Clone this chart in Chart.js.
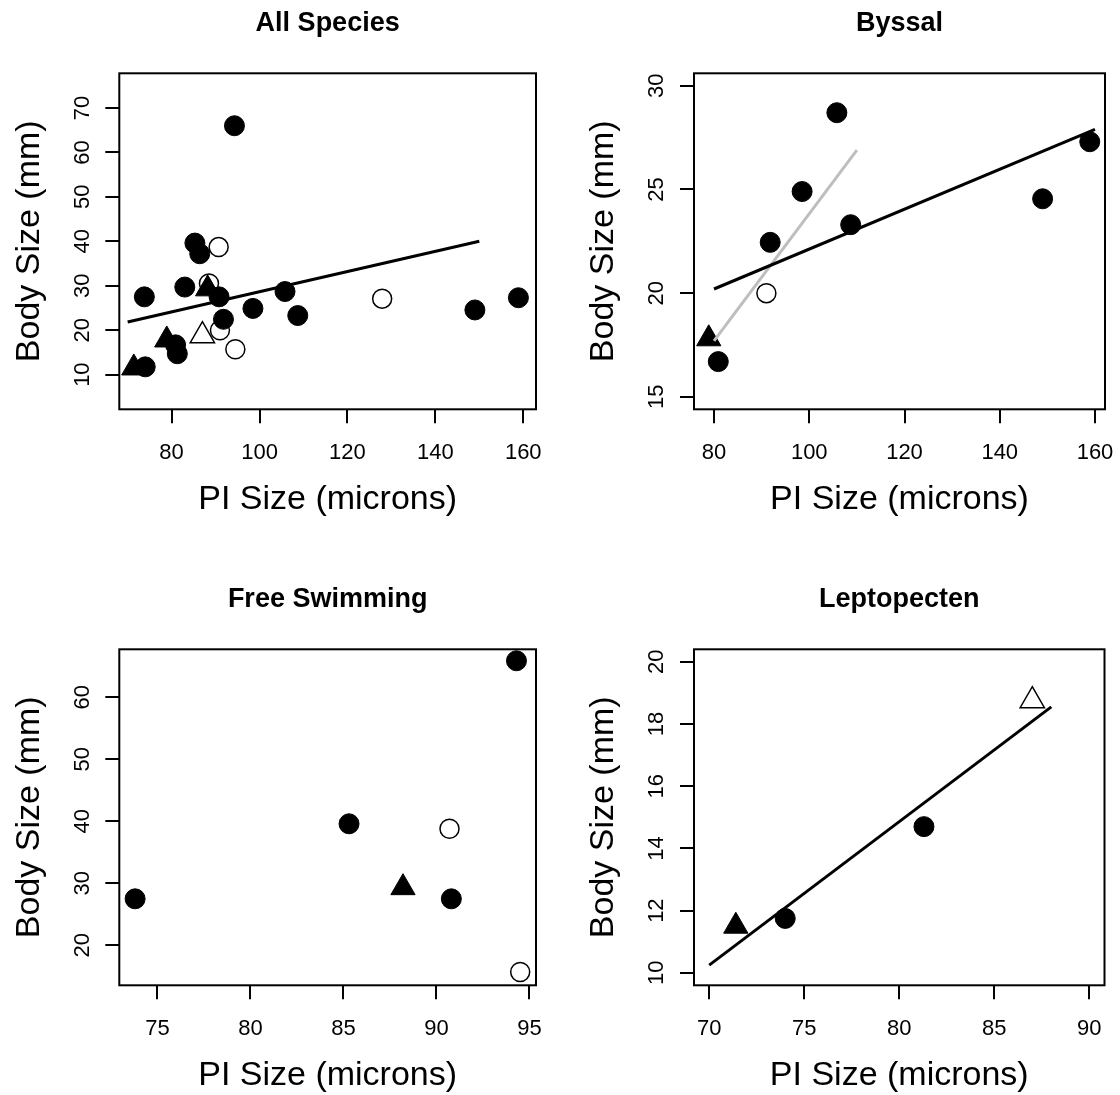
<!DOCTYPE html>
<html>
<head>
<meta charset="utf-8">
<script src="https://cdn.jsdelivr.net/npm/chart.js@4.4.1/dist/chart.umd.min.js"></script>
<style>
  html, body { margin: 0; padding: 0; background: #fff; }
  #wrap { position: relative; width: 1120px; height: 1095px; }
  canvas { position: absolute; }
</style>
</head>
<body>
<div id="wrap">
  <canvas id="allSpecies" width="560" height="519" style="left:0;top:0"></canvas>
  <canvas id="byssal" width="560" height="519" style="left:560px;top:0"></canvas>
  <canvas id="freeSwimming" width="560" height="519" style="left:0;top:576px"></canvas>
  <canvas id="leptopecten" width="560" height="519" style="left:560px;top:576px"></canvas>
</div>
<script>
// ---- All Species ----
const allCircleX = [94.3, 85.3, 86.4, 73.8, 83.0, 90.8, 91.8, 98.5, 105.8, 108.7, 149.0, 158.9, 80.9, 81.3, 74.0];
const allCircleY = [66.0, 39.6, 37.2, 27.5, 29.7, 27.5, 22.45, 24.9, 28.7, 23.3, 24.55, 27.3, 16.7, 14.7, 11.75];
const allOpenX = [90.7, 94.5, 91.0, 127.9, 88.5];
const allOpenY = [38.7, 15.7, 20.0, 27.1, 30.5];
const allTriX = [71.4, 78.9, 88.2];
const allTriY = [11.5, 17.8, 29.3];
const allOpenTriX = [87.0];
const allOpenTriY = [18.75];
const allFitX = [70, 150];
const allFitY = [21.85, 40.0];

// ---- Byssal ----
const byssalCircleX = [105.8, 98.5, 91.8, 108.7, 149.0, 158.9, 80.9];
const byssalCircleY = [28.7, 24.9, 22.45, 23.3, 24.55, 27.3, 16.7];
const byssalOpenX = [91.0];
const byssalOpenY = [20.0];
const byssalTriX = [78.9];
const byssalTriY = [17.8];
const byssalFitX = [80, 160];
const byssalFitY = [20.2, 27.9];
const byssalFit2X = [80, 110];
const byssalFit2Y = [17.7, 26.9];

// ---- Free Swimming ----
const freeCircleX = [94.3, 85.3, 90.8, 73.8];
const freeCircleY = [65.9, 39.6, 27.5, 27.5];
const freeOpenX = [90.7, 94.5];
const freeOpenY = [38.8, 15.7];
const freeTriX = [88.2];
const freeTriY = [29.3];

// ---- Leptopecten ----
const leptoCircleX = [74.0, 81.3];
const leptoCircleY = [11.75, 14.7];
const leptoTriX = [71.4];
const leptoTriY = [11.5];
const leptoOpenTriX = [87.0];
const leptoOpenTriY = [18.75];
const leptoFitX = [70, 88];
const leptoFitY = [10.25, 18.55];

// tick labels
const xTicksWide = [80, 100, 120, 140, 160];
const xTicksFree = [75, 80, 85, 90, 95];
const xTicksLepto = [70, 75, 80, 85, 90];
const yTicksAll = [10, 20, 30, 40, 50, 60, 70];
const yTicksByssal = [15, 20, 25, 30];
const yTicksFree = [20, 30, 40, 50, 60];
const yTicksLepto = [10, 12, 14, 16, 18, 20];

const SANS = "'Liberation Sans', Arial, sans-serif";
const CANVAS_H = 519;
const PLOT_TOP = 73.3;
const PLOT_BOTTOM = 409.3;

function pts(xs, ys) {
  return xs.map((x, i) => ({ x: x, y: ys[i] }));
}

function filledCircles(xs, ys) {
  return { data: pts(xs, ys), pointStyle: 'circle', pointRadius: 10, pointBackgroundColor: '#000',
           pointBorderColor: '#000', pointBorderWidth: 1, order: 4 };
}
function openCircles(xs, ys) {
  return { data: pts(xs, ys), pointStyle: 'circle', pointRadius: 9.5, pointBackgroundColor: '#fff',
           pointBorderColor: '#000', pointBorderWidth: 1.5, order: 5 };
}
function filledTriangles(xs, ys) {
  return { data: pts(xs, ys), pointStyle: 'triangle', pointRadius: 14, pointBackgroundColor: '#000',
           pointBorderColor: '#000', pointBorderWidth: 1, order: 2 };
}
function openTriangles(xs, ys) {
  return { data: pts(xs, ys), pointStyle: 'triangle', pointRadius: 14, pointBackgroundColor: '#fff',
           pointBorderColor: '#000', pointBorderWidth: 1.5, order: 3 };
}
function fitLine(xs, ys, color) {
  return { type: 'line', data: pts(xs, ys), showLine: true, borderColor: color, borderWidth: 3,
           pointRadius: 0, fill: false, order: 1 };
}

// plot box around the chart area
const frame = {
  id: 'frame',
  afterDatasetsDraw(chart) {
    const a = chart.chartArea;
    const ctx = chart.ctx;
    ctx.save();
    ctx.strokeStyle = '#000';
    ctx.lineWidth = 2;
    ctx.strokeRect(a.left, a.top, a.right - a.left, a.bottom - a.top);
    ctx.restore();
  }
};

function panel(id, title, left, right, xRange, yRange, xTicks, yTicks, datasets) {
  const tickGrid = { display: true, drawOnChartArea: false, drawTicks: true, tickLength: 14,
                     color: '#000', lineWidth: 2 };
  new Chart(document.getElementById(id), {
    type: 'scatter',
    data: { datasets: datasets },
    plugins: [frame],
    options: {
      responsive: false,
      animation: false,
      events: [],
      layout: { padding: { left: 0, top: 0, right: 560 - right, bottom: 0 } },
      plugins: {
        legend: { display: false },
        tooltip: { enabled: false },
        title: {
          display: true, text: title, fullSize: false, color: '#000',
          font: { family: SANS, size: 27, weight: 'bold', lineHeight: 1.2 },
          padding: { top: 7, bottom: PLOT_TOP - 7 - 32.4 }
        }
      },
      scales: {
        x: {
          type: 'linear', min: xRange[0], max: xRange[1],
          afterBuildTicks: s => { s.ticks = xTicks.map(v => ({ value: v })); },
          afterFit: s => { s.height = CANVAS_H - PLOT_BOTTOM; s.paddingLeft = 0; s.paddingRight = 0; },
          grid: tickGrid,
          border: { display: false },
          ticks: { color: '#000', font: { family: SANS, size: 22 }, padding: 16, maxRotation: 0, autoSkip: false },
          title: { display: true, text: 'PI Size (microns)', color: '#000',
                   font: { family: SANS, size: 34, lineHeight: 1 }, padding: 2 }
        },
        y: {
          type: 'linear', min: yRange[0], max: yRange[1],
          afterBuildTicks: s => { s.ticks = yTicks.map(v => ({ value: v })); },
          afterFit: s => { s.width = left; s.paddingTop = 0; s.paddingBottom = 0; },
          grid: tickGrid,
          border: { display: false },
          ticks: { color: '#000', font: { family: SANS, size: 22 }, padding: 10.5,
                   minRotation: 90, maxRotation: 90, crossAlign: 'center', autoSkip: false },
          title: { display: true, text: 'Body Size (mm)', color: '#000',
                   font: { family: SANS, size: 34, lineHeight: 1 }, padding: { top: left - 90 - 17 } }
        }
      }
    }
  });
}

panel('allSpecies', 'All Species', 119.3, 536, [68.1, 162.9], [2.2, 77.8], xTicksWide, yTicksAll, [
  fitLine(allFitX, allFitY, '#000'),
  filledTriangles(allTriX, allTriY),
  openTriangles(allOpenTriX, allOpenTriY),
  filledCircles(allCircleX, allCircleY),
  openCircles(allOpenX, allOpenY)
]);

panel('byssal', 'Byssal', 134, 550.7, [75.8, 162.1], [14.4, 30.6], xTicksWide, yTicksByssal, [
  fitLine(byssalFitX, byssalFitY, '#000'),
  fitLine(byssalFit2X, byssalFit2Y, '#bebebe'),
  filledTriangles(byssalTriX, byssalTriY),
  filledCircles(byssalCircleX, byssalCircleY),
  openCircles(byssalOpenX, byssalOpenY)
]);

panel('freeSwimming', 'Free Swimming', 119.3, 536, [72.95, 95.35], [13.55, 67.75], xTicksFree, yTicksFree, [
  filledTriangles(freeTriX, freeTriY),
  filledCircles(freeCircleX, freeCircleY),
  openCircles(freeOpenX, freeOpenY)
]);

panel('leptopecten', 'Leptopecten', 134, 550.7, [69.2, 90.8], [9.6, 20.4], xTicksLepto, yTicksLepto, [
  fitLine(leptoFitX, leptoFitY, '#000'),
  filledTriangles(leptoTriX, leptoTriY),
  openTriangles(leptoOpenTriX, leptoOpenTriY),
  filledCircles(leptoCircleX, leptoCircleY)
]);
</script>
</body>
</html>
